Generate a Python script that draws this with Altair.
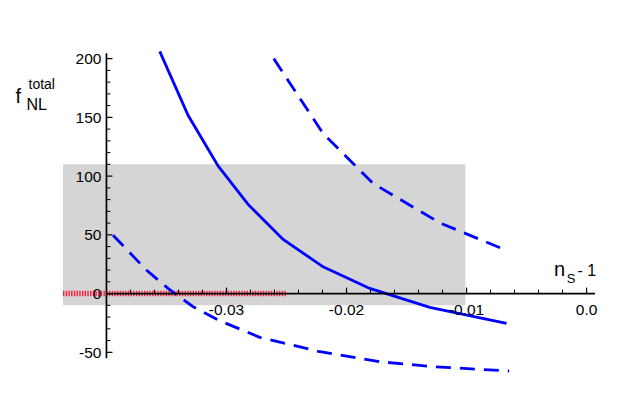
import altair as alt
import pandas as pd

# ---- data ----
solid_x = [-0.03556, -0.0332, -0.0307, -0.0282, -0.02528, -0.02195, -0.01806, -0.01306, -0.00667]
solid_y = [206.2, 151.8, 108.7, 75.9, 46.1, 22.8, 4.4, -11.7, -25.3]

upper_x = [-0.02606, -0.02195, -0.01778, -0.01222, -0.00653]
upper_y = [200.0, 136.2, 93.7, 60.2, 36.1]

lower_x = [-0.03945, -0.03667, -0.03487, -0.03278, -0.0307, -0.02723, -0.02222, -0.01722, -0.01278, -0.00645]
lower_y = [49.7, 20.0, 4.4, -11.2, -22.5, -37.2, -49.5, -58.0, -62.2, -65.9]

band_x = [-0.04362, -0.0101]
band_y = [-10, 110]

red_x = [-0.04362, -0.025]
red_y = 0

x_domain = [-0.04362, 0.0007]
y_domain = [-71, 206.5]
origin_x, origin_y = -0.04, 0
y_axis_range = [-55, 204.5]

x_major = [-0.03, -0.02, -0.01, 0.0]
x_major_labels = ["-0.03", "-0.02", "-0.01", "0.0"]
x_minor = [-0.038, -0.036, -0.034, -0.032, -0.028, -0.026, -0.024, -0.022,
           -0.018, -0.016, -0.014, -0.012, -0.008, -0.006, -0.004, -0.002]
y_major = [-50, 0, 50, 100, 150, 200]
y_major_labels = ["-50", "0", "50", "100", "150", "200"]
y_minor = [-40, -30, -20, -10, 10, 20, 30, 40, 60, 70, 80, 90,
           110, 120, 130, 140, 160, 170, 180, 190]

FONT = "Liberation Sans"
BLUE = "#0000ff"

xs = alt.Scale(domain=x_domain, nice=False, zero=False)
ys = alt.Scale(domain=y_domain, nice=False, zero=False)

curves = pd.concat([
    pd.DataFrame({"x": solid_x, "y": solid_y, "s": "solid", "i": range(len(solid_x))}),
    pd.DataFrame({"x": upper_x, "y": upper_y, "s": "upper", "i": range(len(upper_x))}),
    pd.DataFrame({"x": lower_x, "y": lower_y, "s": "lower", "i": range(len(lower_x))}),
])

band = alt.Chart(pd.DataFrame({"x": [band_x[0]], "x2": [band_x[1]],
                               "y": [band_y[0]], "y2": [band_y[1]]})).mark_rect(
    color="#d5d5d5").encode(
    x=alt.X("x:Q", scale=xs, axis=None), x2="x2:Q",
    y=alt.Y("y:Q", scale=ys, axis=None), y2="y2:Q")

red = alt.Chart(pd.DataFrame({"x": red_x, "y": [red_y, red_y]})).mark_line(
    color="#ff1e3c", strokeWidth=5.5, strokeDash=[1.4, 1.3]).encode(
    x=alt.X("x:Q", scale=xs, axis=None), y=alt.Y("y:Q", scale=ys, axis=None))

solid = alt.Chart(curves[curves.s == "solid"]).mark_line(
    color=BLUE, strokeWidth=2.8, clip=True).encode(
    x=alt.X("x:Q", scale=xs, axis=None), y=alt.Y("y:Q", scale=ys, axis=None),
    order="i:Q")

dashed = alt.Chart(curves[curves.s != "solid"]).mark_line(
    color=BLUE, strokeWidth=2.8, strokeDash=[15, 9], clip=True).encode(
    x=alt.X("x:Q", scale=xs, axis=None), y=alt.Y("y:Q", scale=ys, axis=None),
    detail="s:N", order="i:Q")

axes_df = pd.DataFrame({"x": [origin_x], "x2": [x_domain[1]], "y": [origin_y],
                        "ylo": [y_axis_range[0]], "yhi": [y_axis_range[1]]})
xaxis = alt.Chart(axes_df).mark_rule(color="black", strokeWidth=1.7).encode(
    x=alt.X("x:Q", scale=xs, axis=None), x2="x2:Q", y=alt.Y("y:Q", scale=ys, axis=None))
yaxis = alt.Chart(axes_df).mark_rule(color="black", strokeWidth=1.7).encode(
    x=alt.X("x:Q", scale=xs, axis=None), y=alt.Y("ylo:Q", scale=ys, axis=None), y2="yhi:Q")

xmaj_df = pd.DataFrame({"v": x_major, "lab": x_major_labels, "o": origin_y})
xmin_df = pd.DataFrame({"v": x_minor, "o": origin_y})
ymaj_df = pd.DataFrame({"v": y_major, "lab": y_major_labels, "o": origin_x})
ymin_df = pd.DataFrame({"v": y_minor, "o": origin_x})

xmaj_t = alt.Chart(xmaj_df).mark_rule(color="black", strokeWidth=1.2, y2Offset=-6).encode(
    x=alt.X("v:Q", scale=xs, axis=None), y=alt.Y("o:Q", scale=ys, axis=None), y2="o:Q")
xmin_t = alt.Chart(xmin_df).mark_rule(color="black", strokeWidth=1.0, y2Offset=-4).encode(
    x=alt.X("v:Q", scale=xs, axis=None), y=alt.Y("o:Q", scale=ys, axis=None), y2="o:Q")
ymaj_t = alt.Chart(ymaj_df).mark_rule(color="black", strokeWidth=1.2, x2Offset=6).encode(
    y=alt.Y("v:Q", scale=ys, axis=None), x=alt.X("o:Q", scale=xs, axis=None), x2="o:Q")
ymin_t = alt.Chart(ymin_df).mark_rule(color="black", strokeWidth=1.0, x2Offset=4).encode(
    y=alt.Y("v:Q", scale=ys, axis=None), x=alt.X("o:Q", scale=xs, axis=None), x2="o:Q")

xlab = alt.Chart(xmaj_df).mark_text(font=FONT, fontSize=15.5, align="center",
                                    baseline="alphabetic", dy=21, color="black").encode(
    x=alt.X("v:Q", scale=xs, axis=None), y=alt.Y("o:Q", scale=ys, axis=None), text="lab:N")
ylab = alt.Chart(ymaj_df).mark_text(font=FONT, fontSize=15.5, align="right",
                                    baseline="alphabetic", dx=-5, dy=5.5, color="black").encode(
    y=alt.Y("v:Q", scale=ys, axis=None), x=alt.X("o:Q", scale=xs, axis=None), text="lab:N")

def label(txt, size, px, py):
    return alt.Chart(pd.DataFrame({"t": [txt]})).mark_text(
        font=FONT, fontSize=size, align="left", baseline="alphabetic", color="black").encode(
        text="t:N", x=alt.value(px), y=alt.value(py))

titles = [
    label("f", 20, -47.5, 52.3),
    label("total", 14, -34.5, 38.0),
    label("NL", 16, -36.5, 59.0),
    label("n", 20, 491, 225.0),
    label("S", 13, 503.8, 231.7),
    label("- 1", 16, 514.5, 225.0),
]

chart = alt.layer(band, red, solid, dashed, xaxis, yaxis, xmaj_t, xmin_t, ymaj_t, ymin_t,
                  xlab, ylab, *titles).properties(
    width=532, height=326,
    autosize=alt.AutoSizeParams(type="none"),
    padding={"left": 55, "top": 43, "right": 20, "bottom": 30},
    background="white",
).configure_view(stroke=None)

chart.save("out.html", embed_options={"renderer": "svg", "actions": False})
